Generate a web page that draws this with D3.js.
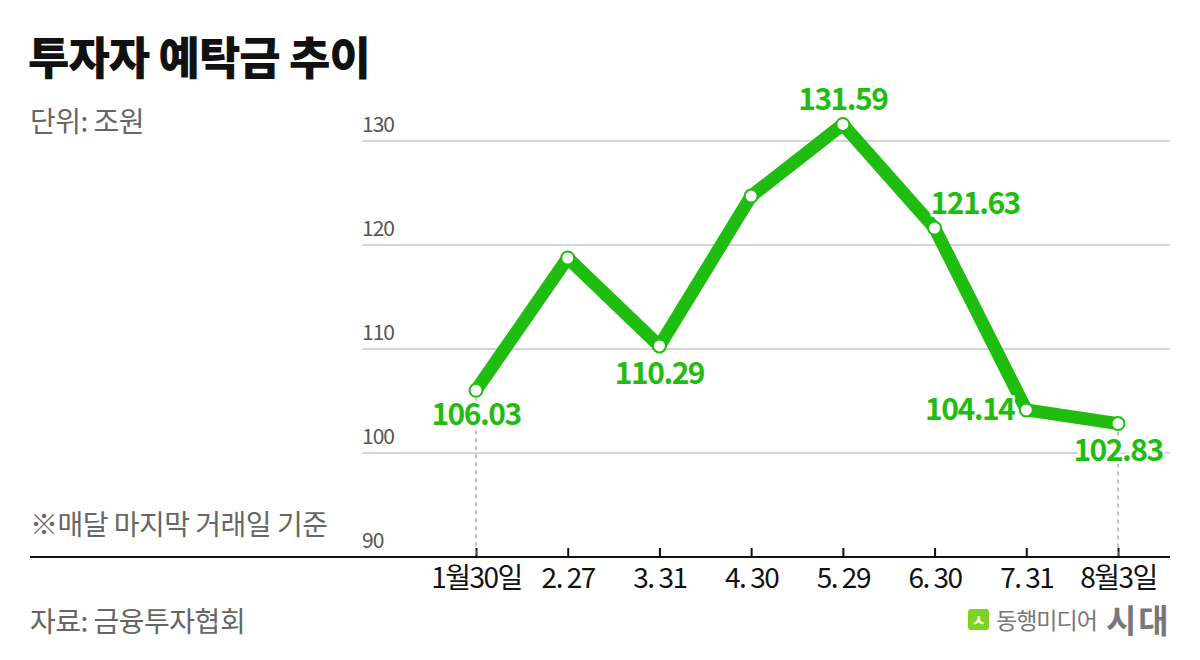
<!DOCTYPE html>
<html>
<head>
<meta charset="utf-8">
<script src="https://cdn.jsdelivr.net/npm/d3@7"></script>
<style>
  body { margin: 0; background: #fff; }
  svg text { font-family: "Noto Sans CJK KR", "Noto Sans", sans-serif; }
</style>
</head>
<body>
<div id="chart"></div>
<script>
// data
var dates = ["1월30일", "2. 27", "3. 31", "4. 30", "5. 29", "6. 30", "7. 31", "8월3일"];
var deposits = [106.03, 118.75, 110.29, 124.7, 131.59, 121.63, 104.14, 102.83];
var shownLabels = ["106.03", "", "110.29", "", "131.59", "121.63", "104.14", "102.83"];
var yTicks = [90, 100, 110, 120, 130];

// label placement next to each point [dx, dy, anchor]
var labelPlace = [[0, 35, "middle"], [0, 0, "middle"], [0, 38, "middle"], [0, -14, "middle"],
  [0, -14, "middle"], [-4, -14, "start"], [-12, 10, "end"], [0, 37, "middle"]];

var green = "#1fbd0f";

var svg = d3.select("#chart")
  .append("svg")
  .attr("width", 1200)
  .attr("height", 660);

var x = d3.scalePoint()
  .domain(dates)
  .range([476, 1118]);

var y = d3.scaleLinear()
  .domain([90, 130])
  .range([557, 141]);

// title and notes
svg.append("text")
  .attr("x", 28).attr("y", 75)
  .attr("font-size", 45).attr("font-weight", 900)
  .attr("letter-spacing", -1)
  .attr("fill", "#111")
  .text("투자자 예탁금 추이");

svg.append("text")
  .attr("x", 30).attr("y", 132)
  .attr("font-size", 28).attr("fill", "#666")
  .attr("letter-spacing", -0.5)
  .text("단위: 조원");

svg.append("text")
  .attr("x", 30).attr("y", 535)
  .attr("font-size", 28).attr("fill", "#666")
  .attr("letter-spacing", -0.5)
  .text("※매달 마지막 거래일 기준");

svg.append("text")
  .attr("x", 30).attr("y", 632)
  .attr("font-size", 28).attr("fill", "#666")
  .attr("letter-spacing", -0.5)
  .text("자료: 금융투자협회");

// gridlines + y labels
var grid = svg.append("g");
grid.selectAll("line")
  .data(yTicks.filter(function (d) { return d > 90; }))
  .join("line")
  .attr("x1", 362).attr("x2", 1170)
  .attr("y1", function (d) { return y(d); })
  .attr("y2", function (d) { return y(d); })
  .attr("stroke", "#c6c6c6")
  .attr("stroke-width", 1.5);

grid.selectAll("text")
  .data(yTicks)
  .join("text")
  .attr("x", 362)
  .attr("y", function (d) { return y(d) - 9; })
  .attr("font-size", 21)
  .attr("letter-spacing", -1)
  .attr("fill", "#555")
  .text(function (d) { return d; });

// x axis
var xAxis = svg.append("g")
  .attr("transform", "translate(0," + y(90) + ")")
  .call(d3.axisBottom(x).tickSize(0).tickPadding(11));
xAxis.select(".domain").remove();
xAxis.append("line")
  .attr("x1", 30).attr("x2", 1170)
  .attr("stroke", "#111").attr("stroke-width", 2);
xAxis.selectAll(".tick line")
  .attr("y2", -9)
  .attr("stroke", "#111")
  .attr("stroke-width", 2);
xAxis.selectAll(".tick text")
  .attr("dy", "0.71em")
  .attr("font-size", 28)
  .attr("letter-spacing", -1.5)
  .attr("fill", "#111")
  .attr("font-family", "'Noto Sans CJK KR', sans-serif");

// dashed drop lines for first and last point
var ends = [0, dates.length - 1];
svg.append("g").selectAll("line")
  .data(ends)
  .join("line")
  .attr("x1", function (i) { return x(dates[i]); })
  .attr("x2", function (i) { return x(dates[i]); })
  .attr("y1", function (i) { return y(deposits[i]); })
  .attr("y2", y(90))
  .attr("stroke", "#999")
  .attr("stroke-width", 1.2)
  .attr("stroke-dasharray", "4,4");

// line
var line = d3.line()
  .x(function (d, i) { return x(dates[i]); })
  .y(function (d) { return y(d); });

svg.append("path")
  .datum(deposits)
  .attr("d", line)
  .attr("fill", "none")
  .attr("stroke", green)
  .attr("stroke-width", 13)
  .attr("stroke-linejoin", "round");

svg.append("g").selectAll("circle")
  .data(deposits)
  .join("circle")
  .attr("cx", function (d, i) { return x(dates[i]); })
  .attr("cy", function (d) { return y(d); })
  .attr("r", 6.5)
  .attr("fill", "#fff")
  .attr("stroke", green)
  .attr("stroke-width", 2);

// value labels
svg.append("g").selectAll("text")
  .data(deposits)
  .join("text")
  .attr("x", function (d, i) { return x(dates[i]) + labelPlace[i][0]; })
  .attr("y", function (d, i) { return y(d) + labelPlace[i][1]; })
  .attr("text-anchor", function (d, i) { return labelPlace[i][2]; })
  .attr("font-size", 30)
  .attr("font-weight", 700)
  .attr("letter-spacing", -1.5)
  .attr("fill", green)
  .attr("stroke", "#fff")
  .attr("stroke-width", 5)
  .attr("paint-order", "stroke")
  .text(function (d, i) { return shownLabels[i]; });

// logo
var logo = svg.append("g");
logo.append("rect")
  .attr("x", 968).attr("y", 609)
  .attr("width", 21).attr("height", 21)
  .attr("rx", 3)
  .attr("fill", "#7ed321");
logo.append("text")
  .attr("x", 978.5).attr("y", 626)
  .attr("text-anchor", "middle")
  .attr("font-size", 16).attr("font-weight", 700)
  .attr("fill", "#fff")
  .text("ㅅ");
logo.append("text")
  .attr("x", 996).attr("y", 629)
  .attr("font-size", 23)
  .attr("letter-spacing", -1)
  .attr("fill", "#777")
  .text("동행미디어");
logo.append("text")
  .attr("x", 1106).attr("y", 633)
  .attr("font-size", 33).attr("font-weight", 700)
  .attr("letter-spacing", 2)
  .attr("fill", "#777")
  .text("시대");
</script>
</body>
</html>
